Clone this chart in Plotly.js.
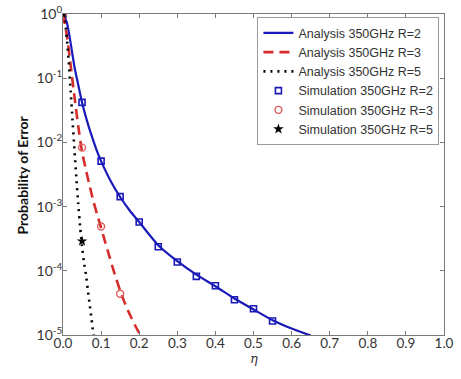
<!DOCTYPE html>
<html>
<head>
<meta charset="utf-8">
<script src="https://cdn.plot.ly/plotly-3.0.1.min.js"></script>
<style>html,body{margin:0;padding:0;background:#fff;}#chart{width:461px;height:379px;}</style>
</head>
<body>
<div id="chart"></div>
<script>
// Analysis curves
const etaA2 = [0, 0.01, 0.02, 0.03, 0.04, 0.05, 0.06, 0.07, 0.08, 0.09, 0.10, 0.125, 0.15, 0.175, 0.20, 0.25, 0.30, 0.35, 0.40, 0.45, 0.50, 0.55, 0.60, 0.65];
const peA2  = [1, 0.74, 0.355, 0.151, 0.079, 0.042, 0.025, 0.0158, 0.0105, 0.0071, 0.0051, 0.0025, 0.00141, 0.00087, 0.000575, 0.00025, 0.000141, 0.000087, 0.0000575, 0.000037, 0.000025, 0.000017, 0.0000126, 0.0000098];

const etaA3 = [0, 0.01, 0.02, 0.03, 0.04, 0.05, 0.06, 0.07, 0.08, 0.09, 0.10, 0.11, 0.12, 0.13, 0.14, 0.15, 0.16, 0.17, 0.18, 0.19, 0.20, 0.21];
const peA3  = [1, 0.47, 0.16, 0.052, 0.018, 0.0071, 0.0038, 0.00209, 0.0012, 0.00074, 0.00047, 0.00029, 0.000182, 0.000115, 0.000074, 0.000049, 0.000034, 0.0000245, 0.0000182, 0.0000138, 0.0000107, 0.0000083];

const etaA5 = [0, 0.005, 0.01, 0.015, 0.02, 0.025, 0.03, 0.035, 0.04, 0.045, 0.05, 0.055, 0.06, 0.065, 0.07, 0.075, 0.08, 0.085];
const peA5  = [1, 0.79, 0.42, 0.18, 0.063, 0.022, 0.0079, 0.0028, 0.0011, 0.00048, 0.00024, 0.000135, 0.000089, 0.000051, 0.00003, 0.0000174, 0.00001, 0.0000063];

// Simulation points
const etaS2 = [0, 0.05, 0.10, 0.15, 0.20, 0.25, 0.30, 0.35, 0.40, 0.45, 0.50, 0.55];
const peS2  = [1, 0.042, 0.0051, 0.00143, 0.000575, 0.000237, 0.000137, 0.000082, 0.0000586, 0.0000355, 0.0000257, 0.0000165];
const etaS3 = [0, 0.05, 0.10, 0.15];
const peS3  = [1, 0.0083, 0.00049, 0.000044];
const etaS5 = [0, 0.05];
const peS5  = [1, 0.00029];

const seriesNames = ['Analysis 350GHz R=2','Analysis 350GHz R=3','Analysis 350GHz R=5','Simulation 350GHz R=2','Simulation 350GHz R=3','Simulation 350GHz R=5'];
const xTickVals = [0,0.1,0.2,0.3,0.4,0.5,0.6,0.7,0.8,0.9,1.0];
const yTickVals = [1,0.1,0.01,0.001,0.0001,0.00001];
const yTickText = ['10<sup>0</sup>','10<sup>-1</sup>','10<sup>-2</sup>','10<sup>-3</sup>','10<sup>-4</sup>','10<sup>-5</sup>'];
const xTitle = '<i>η</i>';
const yTitle = '<b>Probability of Error</b>';

const blue = '#1a1ab8', red = '#d62b2b', black = '#000000';

const traces = [
  {x: etaA2, y: peA2, name: seriesNames[0], mode: 'lines', line: {color: blue, width: 2.2, shape: 'spline', smoothing: 0.6}},
  {x: etaA3, y: peA3, name: seriesNames[1], mode: 'lines', line: {color: red, width: 2.6, dash: '10px,6px', shape: 'spline', smoothing: 0.6}},
  {x: etaA5, y: peA5, name: seriesNames[2], mode: 'lines', line: {color: black, width: 2.6, dash: '2px,5px', shape: 'spline', smoothing: 0.6}},
  {x: etaS2, y: peS2, name: seriesNames[3], mode: 'markers', marker: {symbol: 'square-open', size: 6, color: blue, line: {width: 1.6, color: blue}}},
  {x: etaS3, y: peS3, name: seriesNames[4], mode: 'markers', marker: {symbol: 'circle-open', size: 7, color: '#e05a5a', line: {width: 1.4, color: '#e05a5a'}}},
  {x: etaS5, y: peS5, name: seriesNames[5], mode: 'markers', marker: {symbol: 'star', size: 8, color: black}}
];

const axisCommon = {
  showline: true, mirror: 'ticks', linecolor: '#7a7a7a', linewidth: 1,
  ticks: 'inside', ticklen: 4, tickcolor: '#7a7a7a', showgrid: false, zeroline: false,
  tickfont: {family: 'Lato, "Open Sans", sans-serif', size: 14, color: '#333'}
};

const layout = {
  width: 461, height: 379,
  margin: {l: 63, r: 17, t: 14, b: 44},
  paper_bgcolor: '#fff', plot_bgcolor: '#fff',
  showlegend: true,
  xaxis: Object.assign({}, axisCommon, {range: [0, 1], tickvals: xTickVals, tickformat: '.1f', ticklabelstandoff: -4,
    tickfont: {family: 'Lato, "Open Sans", sans-serif', size: 13.5, color: '#333'}}),
  yaxis: Object.assign({}, axisCommon, {type: 'log', range: [-5, 0], tickvals: yTickVals, ticktext: yTickText, ticklabelstandoff: -3}),
  annotations: [
    {text: xTitle, xref: 'paper', yref: 'paper', x: 0.5, y: -0.074, xanchor: 'center', yanchor: 'middle', showarrow: false,
     font: {family: '"DejaVu Serif", serif', size: 13, color: '#333'}},
    {text: yTitle, xref: 'paper', yref: 'paper', x: -0.105, y: 0.5, xanchor: 'center', yanchor: 'middle', textangle: -90, showarrow: false,
     font: {family: 'Lato, "Open Sans", sans-serif', size: 14, color: '#111'}}
  ],
  legend: {
    x: 0.988, xanchor: 'right', y: 0.99, yanchor: 'top',
    bgcolor: '#fff', bordercolor: '#9a9a9a', borderwidth: 1,
    font: {family: '"Liberation Sans", Arial, sans-serif', size: 12.5, color: '#333'},
    tracegroupgap: 0, itemwidth: 30
  }
};

Plotly.newPlot('chart', traces, layout, {displayModeBar: false, staticPlot: true});
</script>
</body>
</html>
